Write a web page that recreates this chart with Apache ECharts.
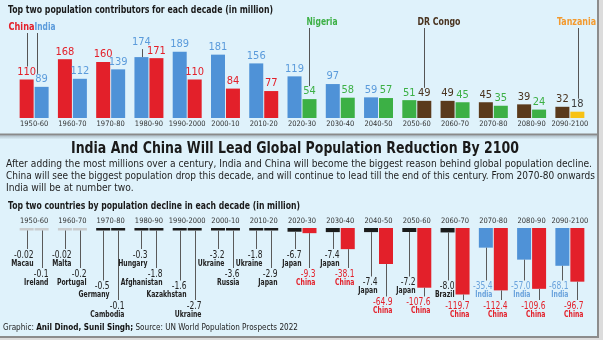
<!DOCTYPE html>
<html><head><meta charset="utf-8">
<script src="https://cdn.jsdelivr.net/npm/echarts@6/dist/echarts.min.js"></script>
<style>
html,body{margin:0;padding:0;background:#fff;}
#c{width:603px;height:340px;}
</style></head><body><div id="c"></div>
<script>
// ---------------- DATA ----------------
const decades = ['1950-60','1960-70','1970-80','1980-90','1990-2000','2000-10','2010-20','2020-30','2030-40','2040-50','2050-60','2060-70','2070-80','2080-90','2090-2100'];

const growthFirstCountry  = ['China','China','China','India','India','India','India','India','India','India','Nigeria','DR Congo','DR Congo','DR Congo','DR Congo'];
const growthFirstValue    = [110,168,160,174,189,181,156,119,97,59,51,49,45,39,32];
const growthSecondCountry = ['India','India','India','China','China','China','China','Nigeria','Nigeria','Nigeria','DR Congo','Nigeria','Nigeria','Nigeria','Tanzania'];
const growthSecondValue   = [89,112,139,171,110,84,77,54,58,57,49,45,35,24,18];

const declineFirstCountry  = ['Macau','Malta','Germany','Hungary','Kazakhstan','Ukraine','Ukraine','Japan','Japan','Japan','Japan','Brazil','India','India','India'];
const declineFirstValue    = [-0.02,-0.02,-0.5,-0.3,-1.6,-3.2,-1.8,-6.7,-7.4,-7.4,-7.2,-8.0,-35.4,-57.0,-68.1];
const declineSecondCountry = ['Ireland','Portugal','Cambodia','Afghanistan','Ukraine','Russia','Japan','China','China','China','China','China','China','China','China'];
const declineSecondValue   = [-0.1,-0.2,-0.1,-1.8,-2.7,-3.6,-2.9,-9.3,-38.1,-64.9,-107.6,-119.7,-112.4,-109.6,-96.7];

const callouts = ['China','India','Nigeria','DR Congo','Tanzania'];

const texts = {
  topTitle: 'Top two population contributors for each decade (in million)',
  mainTitle: 'India And China Will Lead Global Population Reduction By 2100',
  para: [
    'After adding the most millions over a century, India and China will become the biggest reason behind global population decline.',
    'China will see the biggest population drop this decade, and will continue to lead till the end of this century. From 2070-80 onwards',
    'India will be at number two.'
  ],
  subTitle: 'Top two countries by population decline in each decade (in million)',
  credit: ['Graphic: ', 'Anil Dinod, Sunil Singh;', ' Source: UN World Population Prospects 2022']
};

// ---------------- STYLE ----------------
const FF = '"Liberation Sans Narrow","DejaVu Sans Condensed",Roboto,sans-serif';
const BG = '#dff2fb';
const BAR = {China:'#e3202a', India:'#4f92d7', Nigeria:'#3cb045', 'DR Congo':'#5a3a1c', Tanzania:'#f7c215'};
const LBL = {China:'#e3202a', India:'#5b9bdb', Nigeria:'#3cb045', 'DR Congo':'#4a3420', Tanzania:'#3a3a3a'};
const CALLOUT_COLOR = {China:'#e3202a', India:'#5b9bdb', Nigeria:'#3cb045', 'DR Congo':'#4a3420', Tanzania:'#f39a2e'};
const DECL_BAR = {China:'#e3202a', India:'#4f92d7'};
const DECL_LIGHT = {Macau:1, Ireland:1, Malta:1, Portugal:1};
const DECL_LBL = {China:'#e3202a', India:'#6aa3dc'};
// label row layout for the decline chart
const rowOf = [0,0,2,0,2,0,0,0,0,1,1,2,2,2,2];
const rowFirstY = [255, 282.5, 286.5];
const rowSecondY = [274, 302.5, 306];
// callout layout: [series, dataIndex, lineDx, textDx, align, textY, lineTop, targetWidth]
const calloutLayout = {
  China:     [0, 0, 0, 7, 'right', 27.5, 33, 26],
  India:     [1, 0, -5, -3, 'left', 27.5, 33, 21],
  Nigeria:   [1, 7, 0, -3, 'left', 22.5, 28, 31],
  'DR Congo':[1, 10, 0, -7, 'left', 22.5, 28, 43],
  Tanzania:  [1, 14, 1, -2, 'center', 22.5, 28, 39]
};

function fmt(v){ return Math.abs(v) < 0.1 ? v.toFixed(2) : v.toFixed(1); }

const mctx = document.createElement('canvas').getContext('2d');
function textW(t, font){ mctx.font = font; return mctx.measureText(t).width; }

function growthItems(vals, ctry){
  return vals.map((v,i)=>{
    const it = {value:v, itemStyle:{color:BAR[ctry[i]]}, label:{color:LBL[ctry[i]]}};
    if (ctry[i]==='India' && decades[i]==='1980-90') it.label.offset=[0,-7];
    return it;
  });
}
function declineItems(vals, ctry){
  return vals.map((v,i)=>({value:v, itemStyle:{color: DECL_BAR[ctry[i]] || (DECL_LIGHT[ctry[i]] ? '#c9ccce' : '#1b1b1b')}}));
}

const chart = echarts.init(document.getElementById('c'), null, {renderer:'canvas'});
const catAxisCommon = {type:'category', data:decades, axisLine:{show:false}, axisTick:{show:false}, splitLine:{show:false},
  axisLabel:{fontFamily:FF, fontSize:7.5, color:'#333', interval:0, margin:2.5}};
const option = {
  animation:false,
  backgroundColor:'#ffffff',
  textStyle:{fontFamily:FF},
  grid:[
    {left:15, width:574, top:48, height:70},
    {left:15, width:574, top:228, height:66.6}
  ],
  xAxis:[
    Object.assign({gridIndex:0, position:'bottom'}, catAxisCommon),
    Object.assign({gridIndex:1, position:'top'}, catAxisCommon)
  ],
  yAxis:[
    {gridIndex:0, type:'value', min:0, max:200, show:false},
    {gridIndex:1, type:'value', min:-120, max:0, show:false}
  ],
  series:[
    {type:'bar', xAxisIndex:0, yAxisIndex:0, barWidth:14, barGap:'7%', data:growthItems(growthFirstValue, growthFirstCountry),
      label:{show:true, position:'top', distance:2, fontFamily:FF, fontSize:11}},
    {type:'bar', xAxisIndex:0, yAxisIndex:0, barWidth:14, barGap:'7%', data:growthItems(growthSecondValue, growthSecondCountry),
      label:{show:true, position:'top', distance:2, fontFamily:FF, fontSize:11}},
    {type:'bar', xAxisIndex:1, yAxisIndex:1, barWidth:14, barGap:'7%', barMinHeight:2.5, data:declineItems(declineFirstValue, declineFirstCountry)},
    {type:'bar', xAxisIndex:1, yAxisIndex:1, barWidth:14, barGap:'7%', barMinHeight:2.5, data:declineItems(declineSecondValue, declineSecondCountry)}
  ]
};
chart.setOption(option);

// ---------- annotations from bar layouts ----------
function rect(si, di){
  const l = chart.getModel().getSeriesByIndex(si).getData().getItemLayout(di);
  const y0 = Math.min(l.y, l.y + l.height), y1 = Math.max(l.y, l.y + l.height);
  return {cx: l.x + l.width/2, top:y0, bottom:y1};
}
// text element placed at (x,y) and horizontally compressed by sx
function txt(text, x, y, font, fill, align, sx, extra){
  const st = {text:text, x:0, y:0, font:font, fill:fill, align:align||'left', verticalAlign:'middle',
              textAlign:align||'left', textVerticalAlign:'middle'};
  if (extra) Object.assign(st, extra);
  return {type:'text', silent:true, z:10, x:x, y:y, scaleX:sx||1, scaleY:1, style:st};
}
function fitted(text, x, y, font, fill, target, align){
  return txt(text, x, y, font, fill, align, target / textW(text, font));
}
const g = [];
// background panel and borders
g.push({type:'rect', z:-10, silent:true, shape:{x:0,y:0,width:597,height:336}, style:{fill:BG}});
g.push({type:'rect', z:-9, silent:true, shape:{x:597,y:0,width:2,height:338}, style:{fill:'#8c8c8c'}});
g.push({type:'rect', z:-9, silent:true, shape:{x:599,y:0,width:4,height:340}, style:{fill:'#dcdcdc'}});
g.push({type:'rect', z:-9, silent:true, shape:{x:0,y:336,width:599,height:2}, style:{fill:'#8c8c8c'}});
g.push({type:'rect', z:-9, silent:true, shape:{x:0,y:338,width:603,height:2}, style:{fill:'#dcdcdc'}});
g.push({type:'rect', z:-9, silent:true, shape:{x:0,y:133.5,width:597,height:2}, style:{fill:'#8a8a8a'}});
g.push({type:'rect', z:-9, silent:true, shape:{x:0,y:135.5,width:597,height:4},
  style:{fill:new echarts.graphic.LinearGradient(0,0,0,1,[{offset:0,color:'rgba(120,130,140,0.45)'},{offset:1,color:'rgba(120,130,140,0)'}])}});

// titles and text
g.push(fitted(texts.topTitle, 8, 10.5, 'bold 10.5px '+FF, '#1a1a1a', 265));
g.push(fitted(texts.mainTitle, 295, 148.5, 'bold 16px '+FF, '#1a1a1a', 448, 'center'));
{
  const pf = '11px '+FF;
  const sx0 = 586 / textW(texts.para[0], pf);
  const sx1 = 589 / textW(texts.para[1], pf);
  const sxs = [sx0, sx1, sx0];
  texts.para.forEach((t,i)=>g.push(txt(t, 6, 164+i*12.3, pf, '#1f1f1f', 'left', sxs[i])));
}
g.push(fitted(texts.subTitle, 8, 206, 'bold 10.5px '+FF, '#1a1a1a', 292));
{
  const fN = '9px '+FF, fB = 'bold 9px '+FF;
  const w = textW(texts.credit[0], fN) + textW(texts.credit[1], fB) + textW(texts.credit[2], fN);
  g.push(txt('{n|'+texts.credit[0]+'}{b|'+texts.credit[1]+'}{n|'+texts.credit[2]+'}', 3, 328, fN, '#222', 'left', 295 / w,
    {rich:{n:{font:fN, fill:'#222'}, b:{font:fB, fill:'#111'}}}));
}

// top callouts
callouts.forEach(name=>{
  const [si, di, ldx, tdx, al, ty, lt, tw] = calloutLayout[name];
  const r = rect(si, di);
  const lx = Math.round(r.cx + ldx) + 0.5;
  g.push({type:'line', silent:true, z:9, shape:{x1:lx, y1:lt, x2:lx, y2:r.top - 13}, style:{stroke:'#555', lineWidth:1}});
  g.push(fitted(name, lx + tdx, ty, 'bold 11px '+FF, CALLOUT_COLOR[name], tw, al));
});
// raised label tick (1980-90 India)
{
  const i = decades.indexOf('1980-90');
  const r = rect(0, i);
  const lx = Math.round(r.cx + 1) + 0.5;
  g.push({type:'line', silent:true, z:9, shape:{x1:lx, y1:r.top - 8, x2:lx, y2:r.top}, style:{stroke:'#555', lineWidth:1}});
}

// decline leader lines and labels
function declineLabel(si, di, v, ctry, y){
  const r = rect(si, di);
  const lx = Math.round(r.cx) + 0.5;
  g.push({type:'line', silent:true, z:9, shape:{x1:lx, y1:r.bottom, x2:lx, y2:y - 6}, style:{stroke:'#5a5a5a', lineWidth:1}});
  const col = DECL_LBL[ctry] || '#222';
  g.push(txt(fmt(v), lx + 6, y, '10.5px '+FF, col, 'right', 0.8));
  g.push(txt(ctry, lx + 6, y + 8.5, 'bold 8.5px '+FF, col, 'right', 0.8));
}
decades.forEach((d,i)=>{
  declineLabel(2, i, declineFirstValue[i], declineFirstCountry[i], rowFirstY[rowOf[i]]);
  declineLabel(3, i, declineSecondValue[i], declineSecondCountry[i], rowSecondY[rowOf[i]]);
});

chart.setOption({graphic:{elements:g}});
</script></body></html>
